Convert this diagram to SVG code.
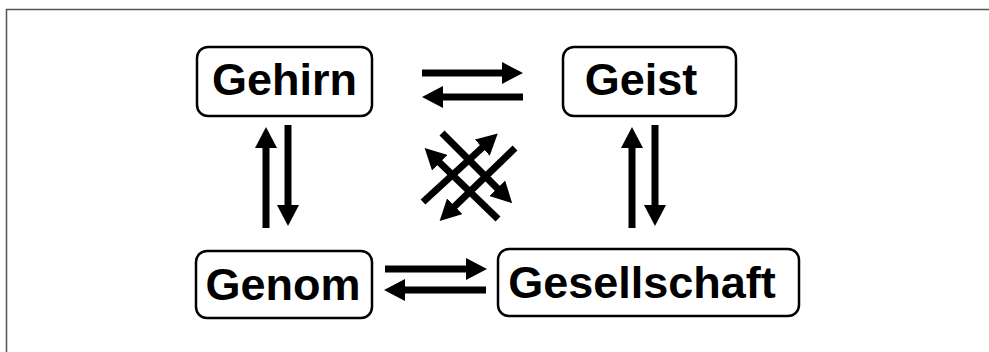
<svg xmlns="http://www.w3.org/2000/svg" width="989" height="352" viewBox="0 0 989 352">
<style>
.box{fill:#fff;stroke:#000;stroke-width:2.5}
.lbl{font-family:"Liberation Sans",Arial,sans-serif;font-weight:bold;font-size:45px;fill:#000;text-anchor:middle}
.arr{stroke:#000;stroke-width:7;fill:none}
</style>
<defs>
<marker id="ah" markerUnits="userSpaceOnUse" markerWidth="22" markerHeight="22" refX="1" refY="11" orient="auto">
<path d="M0,0 L21,11 L0,22 z" fill="#000"/>
</marker>
</defs>
<rect x="6.5" y="9.5" width="1000" height="400" fill="#fff" stroke="#555" stroke-width="1.5"/>
<g id="gehirn">
<rect class="box" x="197" y="47" width="175" height="69" rx="11"/>
<text class="lbl" x="284.5" y="95">Gehirn</text>
</g>
<g id="geist">
<rect class="box" x="563" y="47" width="173" height="69" rx="11"/>
<text class="lbl" x="641" y="95">Geist</text>
</g>
<g id="genom">
<rect class="box" x="196" y="251" width="176" height="67" rx="11"/>
<text class="lbl" x="283" y="300">Genom</text>
</g>
<g id="gesellschaft">
<rect class="box" x="498" y="249" width="301" height="67" rx="11"/>
<text class="lbl" x="642" y="298">Gesellschaft</text>
</g>
<g id="connectors" marker-end="url(#ah)">
<line class="arr" x1="422" y1="73" x2="503" y2="73" marker-end="url(#ah)"/>
<line class="arr" x1="523" y1="97" x2="442" y2="97" marker-end="url(#ah)"/>
<line class="arr" x1="385" y1="269" x2="467" y2="269" marker-end="url(#ah)"/>
<line class="arr" x1="486" y1="290" x2="404" y2="290" marker-end="url(#ah)"/>
<line class="arr" x1="266" y1="228" x2="266" y2="147" marker-end="url(#ah)"/>
<line class="arr" x1="288" y1="125" x2="288" y2="206" marker-end="url(#ah)"/>
<line class="arr" x1="632" y1="228" x2="632" y2="147" marker-end="url(#ah)"/>
<line class="arr" x1="655" y1="125" x2="655" y2="206" marker-end="url(#ah)"/>
<line class="arr" x1="442" y1="133" x2="498" y2="189" marker-end="url(#ah)"/>
<line class="arr" x1="498" y1="219" x2="439" y2="162" marker-end="url(#ah)"/>
<line class="arr" x1="423" y1="202" x2="483" y2="147" marker-end="url(#ah)"/>
<line class="arr" x1="515" y1="148" x2="454" y2="207" marker-end="url(#ah)"/>
</g>
</svg>
